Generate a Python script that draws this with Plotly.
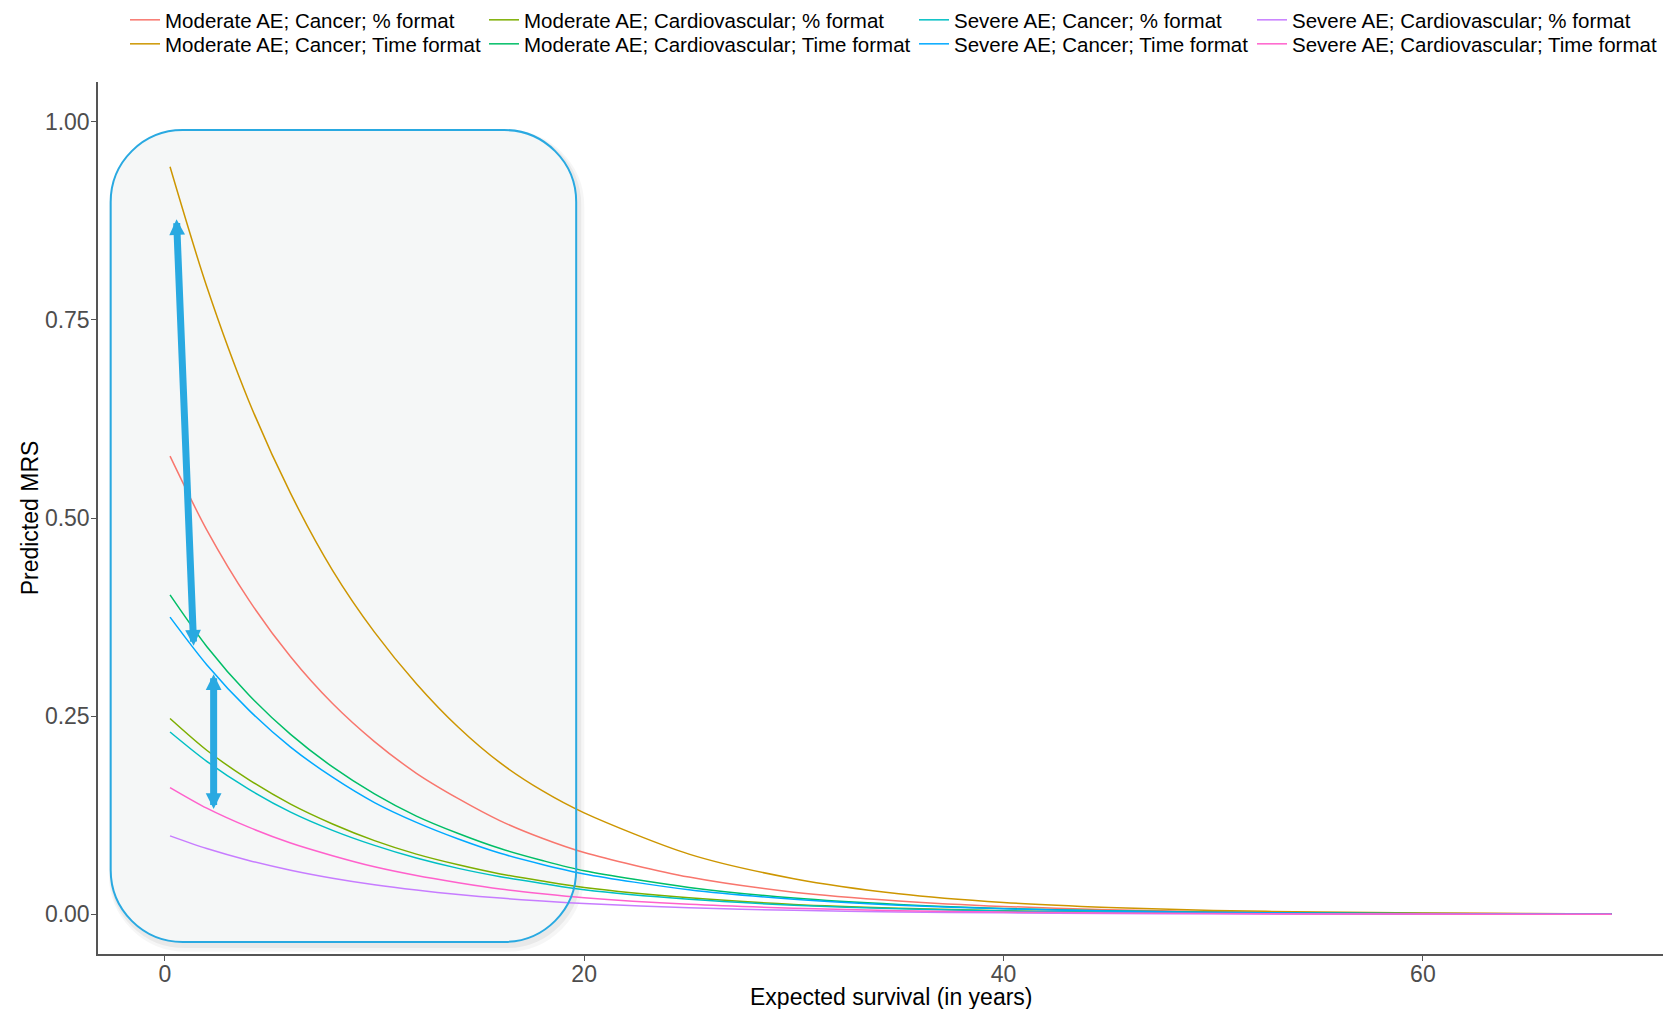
import plotly.graph_objects as go

# Expected survival (years) at which the predicted MRS was read
SURVIVAL = [0.25, 2, 4, 6, 8, 10, 12, 14, 16, 18, 20, 25, 30, 35, 40, 45, 50, 55, 60, 65, 69]

MOD_CANCER_PCT = [0.578, 0.485, 0.397, 0.325, 0.266, 0.218, 0.178, 0.146, 0.118, 0.096, 0.078,
                  0.047, 0.028, 0.017, 0.0100, 0.0059, 0.0034, 0.0020, 0.0012, 0.0007, 0.0004]
MOD_CANCER_TIME = [0.943, 0.792, 0.648, 0.531, 0.434, 0.356, 0.291, 0.236, 0.191, 0.156, 0.128,
                   0.076, 0.045, 0.026, 0.0150, 0.0087, 0.0050, 0.0029, 0.0017, 0.0010, 0.0006]
MOD_CARDIO_PCT = [0.247, 0.207, 0.170, 0.139, 0.114, 0.093, 0.076, 0.0625, 0.051, 0.042, 0.034,
                  0.021, 0.0126, 0.0077, 0.0046, 0.0028, 0.0017, 0.0010, 0.0006, 0.0004, 0.0002]
MOD_CARDIO_TIME = [0.403, 0.338, 0.277, 0.227, 0.186, 0.152, 0.124, 0.102, 0.083, 0.068, 0.055,
                   0.034, 0.0205, 0.0124, 0.0075, 0.0045, 0.0027, 0.0016, 0.0010, 0.0006, 0.0004]
SEV_CANCER_PCT = [0.230, 0.193, 0.158, 0.129, 0.106, 0.087, 0.071, 0.058, 0.0475, 0.039, 0.031,
                  0.0190, 0.0116, 0.0070, 0.0043, 0.0026, 0.0016, 0.0010, 0.0006, 0.0004, 0.0002]
SEV_CANCER_TIME = [0.375, 0.315, 0.258, 0.211, 0.173, 0.141, 0.116, 0.095, 0.077, 0.063, 0.051,
                   0.031, 0.019, 0.0115, 0.0070, 0.0042, 0.0025, 0.0015, 0.0009, 0.0005, 0.0003]
SEV_CARDIO_PCT = [0.099, 0.083, 0.068, 0.0557, 0.0456, 0.0373, 0.0306, 0.025, 0.0205, 0.0168, 0.0137,
                  0.0083, 0.0051, 0.0031, 0.0019, 0.0011, 0.0007, 0.0004, 0.0003, 0.0002, 0.0001]
SEV_CARDIO_TIME = [0.160, 0.134, 0.110, 0.090, 0.074, 0.060, 0.049, 0.040, 0.032, 0.026, 0.021,
                   0.0128, 0.0078, 0.0047, 0.0029, 0.0017, 0.0010, 0.0006, 0.0004, 0.0002, 0.0001]

SERIES_NAMES = [
    "Moderate AE; Cancer; % format",
    "Moderate AE; Cancer; Time format",
    "Moderate AE; Cardiovascular; % format",
    "Moderate AE; Cardiovascular; Time format",
    "Severe AE; Cancer; % format",
    "Severe AE; Cancer; Time format",
    "Severe AE; Cardiovascular; % format",
    "Severe AE; Cardiovascular; Time format",
]
SERIES_VALUES = [MOD_CANCER_PCT, MOD_CANCER_TIME, MOD_CARDIO_PCT, MOD_CARDIO_TIME,
                 SEV_CANCER_PCT, SEV_CANCER_TIME, SEV_CARDIO_PCT, SEV_CARDIO_TIME]
COLORS = ["#F8766D", "#CD9600", "#7CAE00", "#00BE67",
          "#00BFC4", "#00A9FF", "#C77CFF", "#FF61CC"]

X_TICKS = [0, 20, 40, 60]
Y_TICKS = [0.0, 0.25, 0.5, 0.75, 1.0]

FONT = "Arial, Liberation Sans, sans-serif"
W, H = 1663, 1009
M_L, M_R, M_T, M_B = 98, 0, 81, 55
ACCENT = "#29A9E1"
PW = W - M_L - M_R
PH = H - M_T - M_B


def px_to_paper_x(px):
    return (px - M_L) / PW


def px_to_paper_y(py):
    return (H - M_B - py) / PH


# one legend per entry: 4 columns (condition) x 2 rows (format)
LEGEND_TEXT_X = [165, 524, 954, 1292]
LEGEND_ROW_TOP = [-1.5, 24]
legend_keys = ["legend"] + [f"legend{i}" for i in range(2, 9)]

fig = go.Figure()
for i, (name, vals, col) in enumerate(zip(SERIES_NAMES, SERIES_VALUES, COLORS)):
    fig.add_trace(go.Scatter(
        x=SURVIVAL, y=vals, mode="lines", name=name, legend=legend_keys[i],
        showlegend=True,
        line=dict(color=col, width=1.5, shape="spline", smoothing=0.8),
    ))

legends = {}
for i, key in enumerate(legend_keys):
    legends[key] = dict(
        orientation="v", xanchor="left", yanchor="top",
        x=px_to_paper_x(LEGEND_TEXT_X[i // 2] - 40),
        y=px_to_paper_y(LEGEND_ROW_TOP[i % 2]),
        font=dict(family=FONT, size=20.5, color="#000000"),
        bgcolor="rgba(0,0,0,0)", borderwidth=0, itemwidth=30,
    )


def rounded_path(x0, x1, y0, y1, rx, ry):
    k = 0.5523
    return (
        f"M{x0 + rx},{y1} L{x1 - rx},{y1} "
        f"C{x1 - rx + k * rx},{y1} {x1},{y1 - ry + k * ry} {x1},{y1 - ry} "
        f"L{x1},{y0 + ry} "
        f"C{x1},{y0 + ry - k * ry} {x1 - rx + k * rx},{y0} {x1 - rx},{y0} "
        f"L{x0 + rx},{y0} "
        f"C{x0 + rx - k * rx},{y0} {x0},{y0 + ry - k * ry} {x0},{y0 + ry} "
        f"L{x0},{y1 - ry} "
        f"C{x0},{y1 - ry + k * ry} {x0 + rx - k * rx},{y1} {x0 + rx},{y1} Z"
    )


# highlighted early-survival region
BOX_X0, BOX_X1, BOX_Y0, BOX_Y1 = -2.58, 19.62, -0.0348, 0.9894
BOX_RX, BOX_RY = 3.43, 0.0907
shapes = []
for off, w, a in [(0.006, 10, 0.035), (0.004, 6, 0.05)]:
    shapes.append(dict(
        type="path", layer="below", xref="x", yref="y",
        path=rounded_path(BOX_X0 + off * 25, BOX_X1 + off * 25,
                          BOX_Y0 - off, BOX_Y1 - off, BOX_RX, BOX_RY),
        line=dict(color=f"rgba(0,0,0,{a})", width=w), fillcolor="rgba(0,0,0,0)",
    ))
shapes.append(dict(
    type="path", layer="below", xref="x", yref="y",
    path=rounded_path(BOX_X0, BOX_X1, BOX_Y0, BOX_Y1, BOX_RX, BOX_RY),
    line=dict(width=0), fillcolor="#F5F7F7",
))
shapes.append(dict(
    type="path", layer="above", xref="x", yref="y",
    path=rounded_path(BOX_X0, BOX_X1, BOX_Y0, BOX_Y1, BOX_RX, BOX_RY),
    line=dict(color=ACCENT, width=2), fillcolor="rgba(0,0,0,0)",
))

# double-headed arrows marking the gaps between formats
ARROWS = [((0.56, 0.877), (1.38, 0.337)), ((2.33, 0.303), (2.33, 0.131))]
annotations = []
for (hx, hy), (tx, ty) in ARROWS:
    annotations.append(dict(
        x=hx, y=hy, ax=tx, ay=ty, xref="x", yref="y", axref="x", ayref="y",
        text="", showarrow=True, arrowside="end+start",
        arrowhead=2, startarrowhead=2, arrowsize=0.45, startarrowsize=0.45,
        arrowwidth=7, arrowcolor=ACCENT, standoff=0, startstandoff=0,
    ))

# x-axis title, centred on the full panel width
annotations.append(dict(
    text="Expected survival (in years)", xref="paper", yref="paper",
    x=px_to_paper_x(891), y=px_to_paper_y(997.5), xanchor="center", yanchor="middle",
    showarrow=False, font=dict(family=FONT, size=23, color="#000000"),
))

fig.update_layout(
    width=W, height=H,
    margin=dict(l=M_L, r=M_R, t=M_T, b=M_B),
    paper_bgcolor="white", plot_bgcolor="white",
    font=dict(family=FONT, color="#000000"),
    showlegend=True,
    shapes=shapes, annotations=annotations,
    **legends,
    xaxis=dict(
        range=[-3.185, 71.45], tickvals=X_TICKS, ticktext=[str(v) for v in X_TICKS],
        showgrid=False, zeroline=False, showline=True, linecolor="#555555", linewidth=1.5,
        ticks="outside", ticklen=5, tickcolor="#555555", tickwidth=1.2,
        ticklabelstandoff=-6,
        tickfont=dict(family=FONT, size=23, color="#4D4D4D"),
    ),
    yaxis=dict(
        range=[-0.05, 1.05], tickvals=Y_TICKS, ticktext=[f"{v:.2f}" for v in Y_TICKS],
        showgrid=False, zeroline=False, showline=True, linecolor="#555555", linewidth=1.5,
        ticks="outside", ticklen=5, tickcolor="#555555", tickwidth=1.2,
        ticklabelstandoff=-3,
        tickfont=dict(family=FONT, size=23, color="#4D4D4D"),
        title=dict(text="Predicted MRS", standoff=0,
                   font=dict(family=FONT, size=23, color="#000000")),
    ),
)

fig.write_html("out.html")
